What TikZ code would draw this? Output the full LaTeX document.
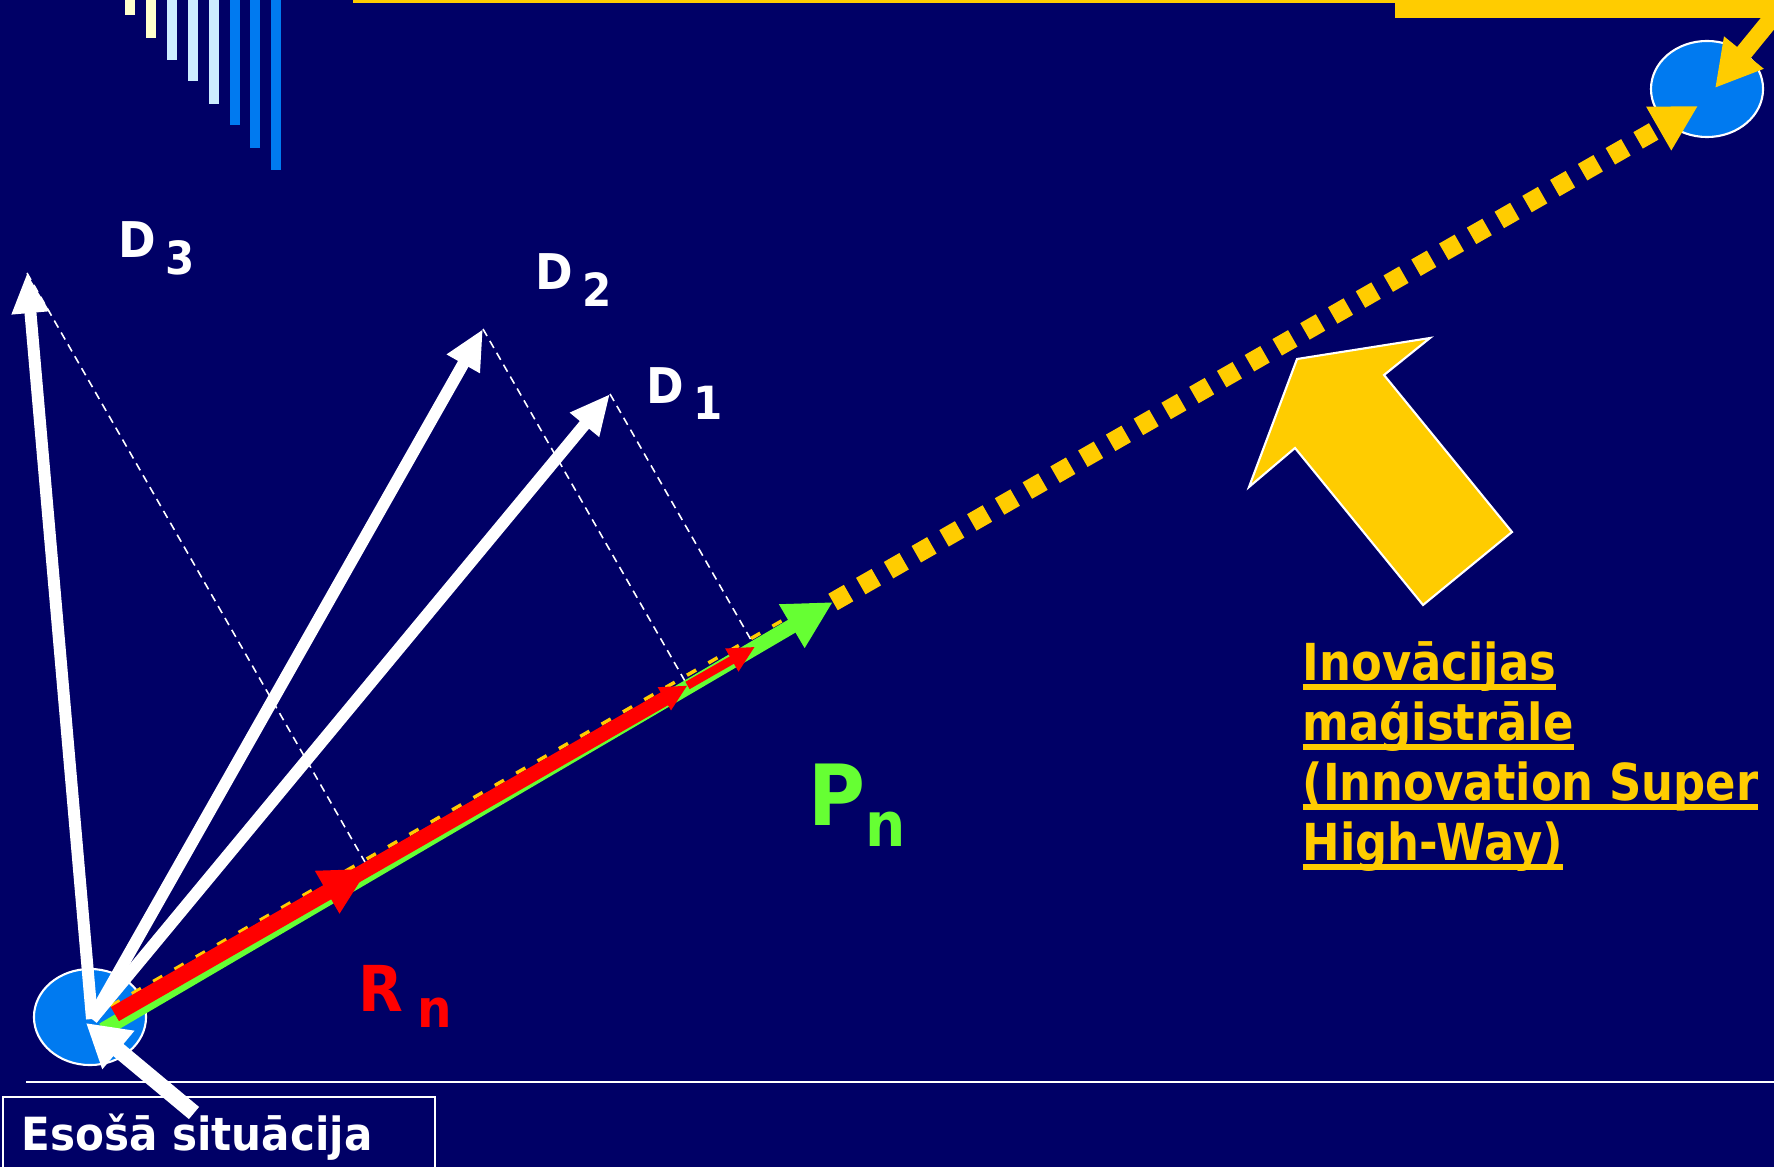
\documentclass[tikz,border=0pt]{standalone}
\usepackage{fontspec}
\setmainfont{DejaVu Sans}[FakeStretch=0.92]
\newfontfamily\hwFont{DejaVu Sans}[FakeStretch=0.88]
\usetikzlibrary{calc, arrows.meta, shapes.geometric, positioning}
\definecolor{bgNavy}{RGB}{0,0,102}
\definecolor{dotBlue}{RGB}{0,122,240}
\definecolor{barCream}{RGB}{255,255,204}
\definecolor{barSky}{RGB}{204,236,255}
\definecolor{hwYellow}{RGB}{255,204,0}
\definecolor{pnGreen}{RGB}{102,255,51}
\definecolor{rnRed}{RGB}{255,0,0}
\newcommand\hwLine[1]{\setbox0\hbox{#1}\rlap{\rule[-2.6pt]{\wd0}{1.7pt}}\box0}
\newcommand\subDigit[1]{\hspace{2.5pt}\raisebox{-4.6pt}{\fontsize{13}{13}\selectfont #1}}
\tikzset{
  vecArrow/.style = {draw=white, line width=3.4pt,
                     -{Triangle[length=11.4pt,width=10pt]}},
  projLine/.style = {draw=white, line width=0.45pt, dash pattern=on 2.3pt off 1.6pt},
  goalDot/.style  = {ellipse, draw=white, line width=0.6pt, fill=dotBlue,
                     minimum width=1.12cm, minimum height=0.96cm, inner sep=0pt},
  dLabel/.style   = {anchor=base west, inner sep=0pt, text=white,
                     font=\bfseries\fontsize{14}{14}\selectfont},
  rnArrow/.style  = {draw=rnRed, line width=#1,
                     -{Triangle[length=7.6pt,width=7pt]}},
}

\begin{document}
\begin{tikzpicture}[x=0.01cm, y=-0.01cm]
  \useasboundingbox (0,0) rectangle (1774,1167);
  \fill[bgNavy] (0,0) rectangle (1774,1167);
  \foreach \x/\h/\c in {125/15/barCream, 146/38/barCream, 167/60/barSky,
                        188/81/barSky, 209/104/barSky, 230/125/dotBlue,
                        250/148/dotBlue, 271/170/dotBlue}
    \fill[\c] (\x,0) rectangle ++(9.5,\h);
  \draw[hwYellow, line width=0.7pt] (354,-5) -- (354,1.5) -- (1780,1.5);
  \fill[hwYellow] (1395,0) rectangle (1774,18);
  \draw[white, line width=0.6pt] (26,1082) -- (1780,1082);
  \draw[white, line width=0.5pt] (3,1097) rectangle (435,1185);

  \node[goalDot] (start) at (90,1017) {};
  \node[goalDot] (goal) at (1707,89) {};

  \coordinate (o) at (92,1019);
  \coordinate (gs) at (103,1030);
  \coordinate (rs) at (115,1014);
  \coordinate (pnTip) at (833,602);
  \coordinate (hwEnd) at (1698,106);
  \coordinate (d1) at (610,394);
  \coordinate (d2) at (483,329);
  \coordinate (d3) at (27,273);
  \coordinate (f1) at ($(rs)!(d1)!(pnTip)$);
  \coordinate (f2) at ($(rs)!(d2)!(pnTip)$);
  \coordinate (f3) at ($(rs)!(d3)!(pnTip)$);
  \coordinate (esTail) at (194,1113);
  \coordinate (esTip) at (86,1023);

  \draw[projLine] (d3) -- (f3);
  \draw[projLine] (d2) -- (f2);
  \draw[projLine] (d1) -- (f1);

  \draw[hwYellow, line width=1pt, dash pattern=on 3pt off 4pt]
      ($(rs)+(-4.5,-8)$) -- ($(rs)!0.97!(pnTip)+(-4.5,-8)$);
  \draw[pnGreen, line width=4.2pt, -{Triangle[length=13.6pt,width=13.4pt]}] (gs) -- (pnTip);
  \draw[rnArrow=4.2pt] (rs) -- (f2);
  \draw[rnRed, line width=4.6pt, -{Triangle[length=13.6pt,width=13pt]}] (rs) -- (f3);
  \draw[rnArrow=2.4pt] (f2) -- (f1);

  \draw[vecArrow] (o) -- (d3);
  \draw[vecArrow] (o) -- (d2);
  \draw[vecArrow] (o) -- (d1);
  \draw[white, line width=4.5pt, -{Triangle[length=12pt,width=13.4pt]}] (esTail) -- (esTip);

  \draw[hwYellow, line width=5.4pt, dash pattern=on 5.1pt off 4pt,
        -{Triangle[length=12.9pt,width=13.4pt]}] (pnTip) -- (hwEnd);
  \draw[hwYellow, line width=5pt, -{Triangle[length=13pt,width=13.6pt]}]
      (1790,-4) -- (1715,88);
  \draw[white, line width=0.6pt, fill=hwYellow] (1297,359) -- (1430,338) -- (1384,375)
      -- (1512,532) -- (1423,605) -- (1295,448) -- (1249,487) -- cycle;

  \node[dLabel] (d3Label) at (118,258) {D\subDigit{3}};
  \node[dLabel] (d2Label) at (535,290) {D\subDigit{2}};
  \node[dLabel] (d1Label) at (646,403) {D\subDigit{1}};
  \node[anchor=base west, inner sep=0pt, text=rnRed,
        font=\bfseries\fontsize{18}{18}\selectfont] (rnLabel) at (358,1011)
      {R\hspace{4pt}\raisebox{-4.6pt}{\fontsize{15}{15}\selectfont n}};
  \node[anchor=base west, inner sep=0pt, text=pnGreen,
        font=\bfseries\fontsize{24}{24}\selectfont] (pnLabel) at (808,825)
      {P\raisebox{-6pt}{\fontsize{17.5}{17.5}\selectfont n}};
  \node[anchor=north west, inner sep=0pt, align=left, text=hwYellow,
        font=\hwFont\bfseries\fontsize{14.5}{17.07}\selectfont] (highway) at (1302,641)
      {\hwLine{Inovācijas}\\ \hwLine{maģistrāle}\\
       \hwLine{(Innovation Super}\\ \hwLine{High-Way)}};
  \node[anchor=base west, inner sep=0pt, text=white,
        font=\bfseries\fontsize{13}{13}\selectfont] (esosa) at (21,1150)
      {Esošā situācija};
\end{tikzpicture}
\end{document}
